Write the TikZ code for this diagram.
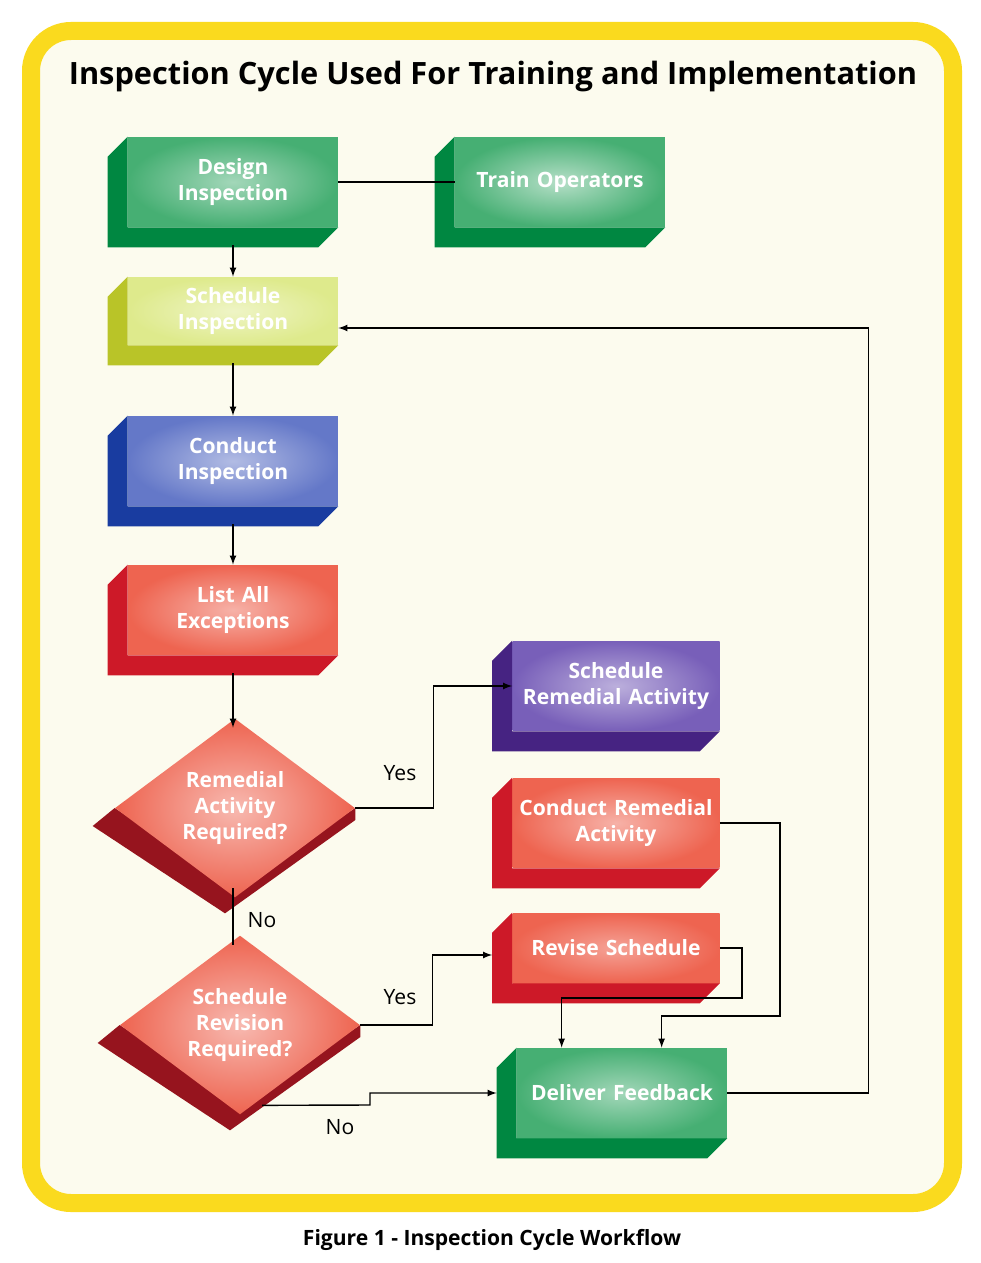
\documentclass[tikz,border=0pt]{standalone}
\usepackage{fontspec}
\setmainfont{Open Sans}
\usetikzlibrary{arrows, calc, positioning, shapes.geometric}
\definecolor{frameyel}{RGB}{250,218,30}
\definecolor{paper}{RGB}{252,251,238}
\definecolor{grnF}{RGB}{70,175,115}\definecolor{grnB}{RGB}{0,135,65}
\definecolor{yelF}{RGB}{222,234,140}\definecolor{yelB}{RGB}{185,196,40}
\definecolor{bluF}{RGB}{100,120,200}\definecolor{bluB}{RGB}{25,60,160}
\definecolor{redF}{RGB}{238,100,80}\definecolor{redB}{RGB}{205,25,40}
\definecolor{purF}{RGB}{120,95,185}\definecolor{purB}{RGB}{70,35,130}
\definecolor{dshad}{RGB}{150,20,30}
\tikzset{
	block/.style={
		rectangle, inner sep=2pt,
		text=white, font=\bfseries\fontsize{12}{15}\selectfont,
		minimum width=4.2cm, minimum height=1.8cm,
		text width=4cm, align=center
	},
	decision/.style={
		diamond, inner sep=0pt,
		text=white, font=\bfseries\fontsize{12}{15}\selectfont, align=center,
		minimum width=4.8cm, minimum height=3.2cm
	},
	line/.style={thick,black},
	arr/.style={line,-latex},
	lbl/.style={font=\fontsize{12}{14}\selectfont}
}
% bevel behind a block: name, colour
\newcommand{\bevel}[2]{
	\fill[#2] ($(#1.north west)+(-20,20)$)--(#1.north west)--(#1.south west)--(#1.south east)
		--($(#1.south east)+(-20,20)$)--($(#1.south west)+(-20,20)$)--cycle;
}
\begin{document}
\begin{tikzpicture}[x=0.02cm,y=-0.02cm]
	\useasboundingbox (0,0) rectangle (980,1263);
	\fill[white] (0,0) rectangle (980,1263);
	\draw[frameyel,line width=18*0.02cm,fill=paper,rounded corners=40*0.02cm] (31,31) rectangle (953,1203);
	\node[font=\bfseries\fontsize{17.5}{20}\selectfont] (title) at (493,77) {Inspection Cycle Used For Training and Implementation};
	\node[font=\bfseries\fontsize{12}{14}\selectfont] (caption) at (492,1240) {Figure 1 - Inspection Cycle Workflow};

	% blocks
	\node[block,inner color=grnF!50,outer color=grnF] (design) at (233,182) {Design\\Inspection};
	\node[block,inner color=grnF!40,outer color=grnF] (train) at (560,182) {Train Operators};
	\node[block,inner color=yelF!50,outer color=yelF,minimum height=1.36cm] (sched) at (233,311) {Schedule\\Inspection};
	\node[block,inner color=bluF!50,outer color=bluF] (conduct) at (233,461) {Conduct\\Inspection};
	\node[block,inner color=redF!50,outer color=redF] (list) at (233,610) {List All\\Exceptions};
	\node[block,inner color=purF!50,outer color=purF,minimum width=4.14cm] (remsched) at (616,686) {Schedule\\Remedial Activity};
	\node[block,inner color=redF!50,outer color=redF,minimum width=4.14cm] (remdo) at (616,823) {Conduct Remedial\\Activity};
	\node[block,inner color=redF!60,outer color=redF,minimum width=4.14cm,minimum height=1.4cm] (revise) at (616,948) {Revise Schedule};
	\node[block,inner color=grnF!50,outer color=grnF] (deliver) at (622,1093) {Deliver Feedback};
	\foreach \n/\c in {design/grnB,train/grnB,sched/yelB,conduct/bluB,list/redB,remsched/purB,remdo/redB,revise/redB,deliver/grnB}
		\bevel{\n}{\c}
	% decisions
	\node[decision] (remq) at (235,808) {};
	\node[decision] (revq) at (240,1025) {};
	\foreach \n in {remq,revq}
		\fill[dshad] ($(\n.west)+(-22,18)$)--(\n.west)--(\n.south)--(\n.east)--($(\n.east)+(0,12)$)--($(\n.south)+(-10,25)$)--cycle;
	\node[decision,inner color=redF!45,outer color=redF] at (remq) {Remedial\\Activity\\Required?};
	\node[decision,inner color=redF!45,outer color=redF] at (revq) {Schedule\\Revision\\Required?};

	% connectors
	\draw[line] (design.east)--(train.west);
	\draw[arr] ($(design.south)+(0,18)$)--(sched.north);
	\draw[arr] ($(sched.south)+(0,18)$)--(conduct.north);
	\draw[arr] ($(conduct.south)+(0,18)$)--(list.north);
	\draw[arr] ($(list.south)+(0,18)$)--(list.south|-remq.north);
	\draw[arr] (remq.east)--++(78,0)|-(remsched.west);
	\node[lbl] (yes1) at (400,773) {Yes};
	\draw[line] ($(remq.south)+(-2,0)$)--($(revq.north)+(-7,0)$);
	\node[lbl] (no1) at (262,920) {No};
	\draw[arr] (revq.east)--++(72,0)|-($(revise.west)+(-20,7)$);
	\node[lbl] (yes2) at (400,997) {Yes};
	\coordinate (nobend) at (370,1105);
	\draw[arr] ($(revq.south)+(22,0)$)--(nobend)--++(0,-12)--($(deliver.west)+(-20,0)$);
	\node[lbl] (no2) at (340,1127) {No};
	\draw[arr] (revise.east)--++(22,0)--++(0,50)-|($(deliver.north west)+(45,0)$);
	\draw[arr] (remdo.east)--++(60,0)--++(0,193)-|($(deliver.north west)+(145,0)$);
	\draw[arr] (deliver.east)--++(141,0)|-($(sched.east)+(0,17)$);
\end{tikzpicture}
\end{document}
